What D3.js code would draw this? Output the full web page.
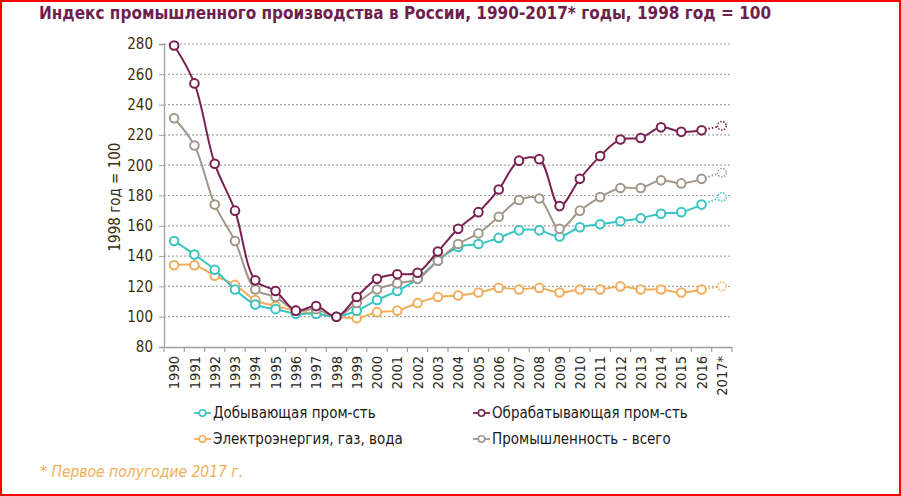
<!DOCTYPE html>
<html><head><meta charset="utf-8">
<script src="https://cdn.jsdelivr.net/npm/d3@7"></script>
<style>
html,body{margin:0;padding:0;background:#fff;}
svg{display:block;}
</style></head>
<body>
<script>
const years = ["1990","1991","1992","1993","1994","1995","1996","1997","1998","1999","2000","2001","2002","2003","2004","2005","2006","2007","2008","2009","2010","2011","2012","2013","2014","2015","2016","2017*"];
const mining =        [150,141,131,118,108,105,102,102,100,104,111,117,125,137,146,148,152,157,157,153,159,161,163,165,168,169,174,179];
const manufacturing = [279,254,201,170,124,117,104,107,100,113,125,128,129,143,158,169,184,203,204,173,191,206,217,218,225,222,223,226];
const utilities =     [134,134,127,121,111,107,104,102,100,99,103,104,109,113,114,116,119,118,119,116,118,118,120,118,118,116,118,120];
const total =         [231,213,174,150,118,113,104,105,100,109,118,122,125,137,148,155,166,177,178,158,170,179,185,185,190,188,191,195];
const yTicks = [80,100,120,140,160,180,200,220,240,260,280];
const seriesNames = ["Добывающая пром-сть","Обрабатывающая пром-сть","Электроэнергия, газ, вода","Промышленность - всего"];
const seriesColors = ["#37C4C2","#7A2153","#F0AE5C","#A39789"];
const title = "Индекс промышленного производства в России, 1990-2017* годы, 1998 год = 100";
const yTitle = "1998 год = 100";
const footnote = "* Первое полугодие 2017 г.";

const W = 901, H = 496;
const svg = d3.select("body").append("svg").attr("width", W).attr("height", H);
const FONT = "'DejaVu Sans Condensed','DejaVu Sans',sans-serif";

svg.append("rect").attr("x",1).attr("y",1).attr("width",W-2).attr("height",H-2)
  .attr("fill","#fff").attr("stroke","#FF0000").attr("stroke-width",2);

svg.append("text").attr("x",39).attr("y",19).text(title)
  .attr("font-family",FONT).attr("font-weight","bold").attr("font-size",17).attr("fill","#6E1F4E");

const x = d3.scaleBand().domain(years).range([164,732]).padding(0);
const y = d3.scaleLinear().domain([80,280]).range([347,44]);

// gridlines
svg.append("g").selectAll("line").data(yTicks.filter(v=>v>80)).join("line")
  .attr("x1",164).attr("x2",732).attr("y1",d=>y(d)).attr("y2",d=>y(d))
  .attr("stroke","#A6A6A6").attr("stroke-width",1.2).attr("stroke-dasharray","2,2");

// y axis
const yAxis = svg.append("g").attr("transform","translate(164,0)")
  .call(d3.axisLeft(y).tickValues(yTicks).tickSize(5).tickPadding(6));
yAxis.select(".domain").attr("stroke","#A0A0A0").attr("stroke-width",1.3);
yAxis.selectAll(".tick line").attr("stroke","#A0A0A0");
yAxis.selectAll("text").attr("font-family",FONT).attr("font-size",15).attr("fill","#3B2F0B");

// x axis
const xAxis = svg.append("g").attr("transform","translate(0,347)")
  .call(d3.axisBottom(x).tickSize(0).tickPadding(0));
xAxis.select(".domain").attr("stroke","#A0A0A0").attr("stroke-width",1.3);
xAxis.selectAll(".tick text").attr("font-family",FONT).attr("font-size",14.5).attr("fill","#2E2A1E")
  .attr("transform","rotate(-90)").attr("text-anchor","end").attr("dx","-9").attr("dy","0.35em").attr("y",0).attr("x",0);
// boundary ticks
const bounds = years.map(d=>x(d)).concat([x(years[years.length-1])+x.bandwidth()]);
svg.append("g").selectAll("line").data(bounds).join("line")
  .attr("x1",d=>d).attr("x2",d=>d).attr("y1",347).attr("y2",352)
  .attr("stroke","#A0A0A0").attr("stroke-width",1.2);

svg.append("text").attr("transform","translate(120,197) rotate(-90)").attr("text-anchor","middle")
  .attr("font-family",FONT).attr("font-size",15).attr("fill","#3B2F0B").text(yTitle);

const seriesData = [mining, manufacturing, utilities, total];
const drawOrder = [2,0,3,1];
const cx = i => x(years[i]) + x.bandwidth()/2;
const line = d3.line().x(d=>cx(d.i)).y(d=>y(d.v)).curve(d3.curveCatmullRom.alpha(0.5));

drawOrder.forEach(s=>{
  const vals = seriesData[s].map((v,i)=>({i,v}));
  const n = vals.length;
  const g = svg.append("g");
  g.append("path").attr("d", line(vals.slice(0,n-1))).attr("fill","none")
    .attr("stroke",seriesColors[s]).attr("stroke-width",2);
  g.append("path").attr("d", line(vals.slice(n-2))).attr("fill","none")
    .attr("stroke",seriesColors[s]).attr("stroke-width",2).attr("stroke-dasharray","1.5,2");
  g.selectAll("circle.m").data(vals.slice(0,n-1)).join("circle")
    .attr("cx",d=>cx(d.i)).attr("cy",d=>y(d.v)).attr("r",4.3)
    .attr("fill","#fff").attr("stroke",seriesColors[s]).attr("stroke-width",2);
  g.append("circle").attr("cx",cx(n-1)).attr("cy",y(vals[n-1].v)).attr("r",4.3)
    .attr("fill","#fff").attr("stroke",seriesColors[s]).attr("stroke-width",1.5).attr("stroke-dasharray","1.5,1.5");
});

// legend
const legPos = [[194,413],[473,413],[194,439],[473,439]];
seriesNames.forEach((name,s)=>{
  const [lx,ly] = legPos[s];
  const g = svg.append("g");
  g.append("line").attr("x1",lx).attr("x2",lx+17).attr("y1",ly).attr("y2",ly)
    .attr("stroke",seriesColors[s]).attr("stroke-width",1.8);
  g.append("circle").attr("cx",lx+8.5).attr("cy",ly).attr("r",3.2).attr("fill","#fff")
    .attr("stroke",seriesColors[s]).attr("stroke-width",1.6);
  g.append("text").attr("x",lx+19).attr("y",ly).attr("dy","0.35em")
    .attr("font-family",FONT).attr("font-size",15).attr("fill","#1A1A1A").text(name);
});

svg.append("text").attr("x",40).attr("y",477).text(footnote)
  .attr("font-family",FONT).attr("font-style","italic").attr("font-size",15.5).attr("fill","#F0AE5C");
</script>
</body></html>
